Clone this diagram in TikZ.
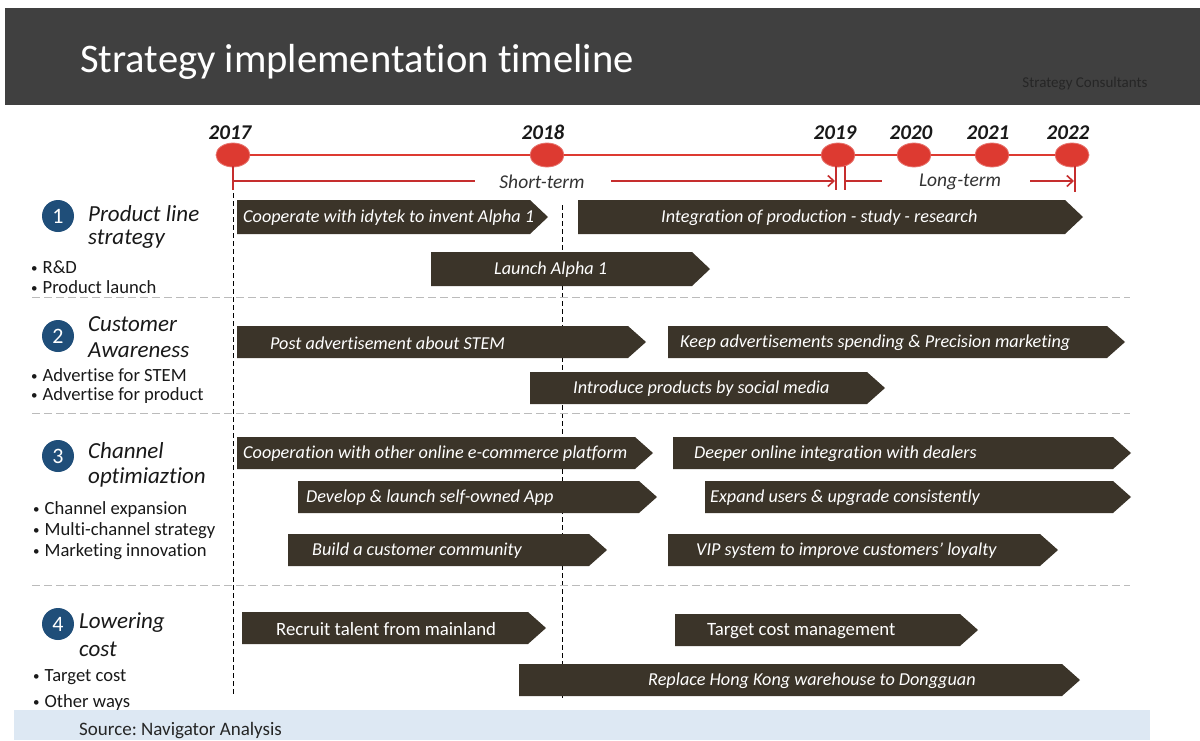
\documentclass[tikz,border=0pt]{standalone}
\usepackage{fontspec}
\setmainfont{Carlito}[Ligatures={TeX,NoCommon}]
\usetikzlibrary{arrows.meta,shapes.geometric}
\definecolor{hdr}{HTML}{404040}
\definecolor{chevcol}{HTML}{3B3429}
\definecolor{tlred}{HTML}{DD3A31}
\definecolor{brred}{HTML}{C62E2E}
\definecolor{numblue}{HTML}{1F4E79}
\definecolor{srcbg}{HTML}{DDE8F3}
\definecolor{sepgray}{HTML}{BBBBBB}
\newcommand\fs[1]{\fontsize{#1}{#1}\selectfont}
\newcommand\bul{{\fs{13}\raisebox{1pt}{\textbullet}}\hspace{5pt}}
\newcommand\chev[8]{%
  \fill[chevcol] (#2,#4) -- ({#3-18},#4) -- (#3,{(#4+#5)/2}) -- ({#3-18},#5) -- (#2,#5) -- cycle;
  \node[#7] (#1) at (#6,{(#4+#5)/2+1}) {#8};}
\begin{document}
\begin{tikzpicture}[x=1pt,y=-1pt,
  chevtxt/.style={text=white, font=\fs{18.2}\itshape, inner sep=0pt, anchor=west},
  chevup/.style={text=white, font=\fs{18.8}, inner sep=0pt, anchor=west},
  yearlbl/.style={font=\fs{21}\bfseries\itshape, text=black!90, inner sep=0pt, anchor=base},
  dot/.style={ellipse, fill=tlred, draw=tlred!70!white, line width=0.8pt, minimum width=34pt, minimum height=24pt, inner sep=0pt},
  tline/.style={tlred, line width=1.6pt},
  brline/.style={brred, line width=2pt},
  termlbl/.style={font=\fs{19.5}\itshape, text=black!80, inner sep=0pt},
  numcirc/.style={circle, fill=numblue, text=white, minimum size=32pt, inner sep=0pt, font=\fs{22}},
  lbl/.style={font=\fs{23}\itshape, text=black!90, inner sep=0pt, anchor=west},
  bultxt/.style={font=\fs{18.6}, text=black!90, inner sep=0pt, anchor=west},
  vdash/.style={black, line width=0.8pt, dash pattern=on 5pt off 3pt},
  hsep/.style={sepgray, line width=1pt, dash pattern=on 8pt off 4pt}]
\useasboundingbox (0,0) rectangle (1200,740);
\fill[white] (0,0) rectangle (1200,740);
% header
\fill[hdr] (5,8) rectangle (1200,105);
\node[font=\fs{40.6}, text=white, inner sep=0pt, anchor=base west] (title) at (80,72) {Strategy implementation timeline};
\node[font=\fs{15}, text=black!85, inner sep=0pt] (consult) at (1085,84) {Strategy Consultants};
% timeline dots
\node[dot] (d2017) at (233,155) {};
\node[dot] (d2018) at (547,155) {};
\node[dot] (d2019) at (838,155) {};
\node[dot] (d2020) at (914,155) {};
\node[dot] (d2021) at (992,155) {};
\node[dot] (d2022) at (1072,155) {};
\draw[tline] (d2017) -- (d2018);
\draw[tline] (d2018) -- (d2019);
\draw[tline] (d2019) -- (d2020);
\draw[tline] (d2020) -- (d2021);
\draw[tline] (d2021) -- (d2022);
\node[yearlbl] (y2017) at (230,139) {2017};
\node[yearlbl] (y2018) at (543,139) {2018};
\node[yearlbl] (y2019) at (835,139) {2019};
\node[yearlbl] (y2020) at (911,139) {2020};
\node[yearlbl] (y2021) at (988,139) {2021};
\node[yearlbl] (y2022) at (1068,139) {2022};
% term bracket
\coordinate (k1t) at (233,166); \coordinate (k1b) at (233,190);
\coordinate (k2t) at (836,166); \coordinate (k2b) at (836,190);
\coordinate (k3t) at (845,166); \coordinate (k3b) at (845,190);
\coordinate (k4t) at (1075,166); \coordinate (k4b) at (1075,192);
\draw[brline] (k1t) -- (k1b);
\draw[brline] (k2t) -- (k2b);
\draw[brline] (k3t) -- (k3b);
\draw[brline] (k4t) -- (k4b);
\node[termlbl] (short) at (542,182) {Short-term};
\node[termlbl] (long) at (960,182) {Long-term};
\coordinate (s0) at (233,181); \coordinate (s1) at (475,181);
\coordinate (s2) at (611,181); \coordinate (s3) at (835,181);
\coordinate (l0) at (845,181); \coordinate (l1) at (882,181);
\coordinate (l2) at (1030,181); \coordinate (l3) at (1074,181);
\draw[brline, line width=1.6pt] (s0) -- (s1);
\draw[brline, line width=1.6pt, -{Straight Barb[length=6pt,width=11pt]}] (s2) -- (s3);
\draw[brline, line width=1.6pt] (l0) -- (l1);
\draw[brline, line width=1.6pt, -{Straight Barb[length=6pt,width=11pt]}] (l2) -- (l3);
% dashed guides
\coordinate (v1t) at (233,193); \coordinate (v1b) at (233,695);
\coordinate (v2t) at (562,205); \coordinate (v2b) at (562,700);
\draw[vdash] (v1t) -- (v1b);
\draw[vdash] (v2t) -- (v2b);
\coordinate (h1a) at (32,297); \coordinate (h1b) at (1130,297);
\coordinate (h2a) at (32,413); \coordinate (h2b) at (1130,413);
\coordinate (h3a) at (32,585); \coordinate (h3b) at (1130,585);
\draw[hsep] (h1a) -- (h1b);
\draw[hsep] (h2a) -- (h2b);
\draw[hsep] (h3a) -- (h3b);
% row labels
\node[numcirc] (n1) at (58,216) {1};
\node[lbl] (t1a) at (88,214) {Product line};
\node[lbl] (t1b) at (88,239) {strategy};
\node[bultxt] (b1a) at (31,267) {\bul R\&D};
\node[bultxt] (b1b) at (31,287) {\bul Product launch};
\node[numcirc] (n2) at (58,336) {2};
\node[lbl] (t2a) at (88,324) {Customer};
\node[lbl] (t2b) at (88,350) {Awareness};
\node[bultxt] (b2a) at (31,375) {\bul Advertise for STEM};
\node[bultxt] (b2b) at (31,396) {\bul Advertise for product};
\node[numcirc] (n3) at (58,456) {3};
\node[lbl] (t3a) at (88,451) {Channel};
\node[lbl] (t3b) at (88,477) {optimiaztion};
\node[bultxt] (b3a) at (33,510) {\bul Channel expansion};
\node[bultxt] (b3b) at (33,531) {\bul Multi-channel strategy};
\node[bultxt] (b3c) at (33,552) {\bul Marketing innovation};
\node[numcirc] (n4) at (58,624) {4};
\node[lbl] (t4a) at (79,623) {Lowering};
\node[lbl] (t4b) at (79,649) {cost};
\node[bultxt] (b4a) at (33,677) {\bul Target cost};
\node[bultxt] (b4b) at (33,703) {\bul Other ways};
% chevrons
\chev{c11}{237}{548}{200}{234}{243}{chevtxt}{Cooperate with idytek to invent Alpha 1}
\chev{c12}{578}{1083}{200}{234}{661}{chevtxt}{Integration of production - study - research}
\chev{c13}{431}{710}{252}{286}{494}{chevtxt}{Launch Alpha 1}
\chev{c21}{237}{646}{326}{358}{270}{chevtxt}{Post advertisement about STEM}
\chev{c22}{668}{1125}{326}{358}{680}{chevtxt}{Keep advertisements spending \& Precision marketing}
\chev{c23}{530}{885}{372}{404}{573}{chevtxt}{Introduce products by social media}
\chev{c31}{237}{653}{437}{469}{243}{chevtxt}{Cooperation with other online e-commerce platform}
\chev{c32}{673}{1131}{437}{469}{694}{chevtxt}{Deeper online integration with dealers}
\chev{c33}{298}{657}{481}{513}{306}{chevtxt}{Develop \& launch self-owned App}
\chev{c34}{705}{1131}{481}{513}{710}{chevtxt}{Expand users \& upgrade consistently}
\chev{c35}{288}{607}{534}{566}{312}{chevtxt}{Build a customer community}
\chev{c36}{668}{1058}{534}{566}{696}{chevtxt}{VIP system to improve customers' loyalty}
\chev{c41}{242}{546}{612}{644}{276}{chevup}{Recruit talent from mainland}
\chev{c42}{675}{978}{614}{646}{707}{chevup}{Target cost management}
\chev{c43}{519}{1080}{664}{696}{648}{chevtxt}{Replace Hong Kong warehouse to Dongguan}
% source band
\fill[srcbg] (14,710) rectangle (1150,740);
\node[font=\fs{19}, text=black!85, inner sep=0pt, anchor=base west] (src) at (79,735) {Source:\ Navigator Analysis};
\end{tikzpicture}
\end{document}
